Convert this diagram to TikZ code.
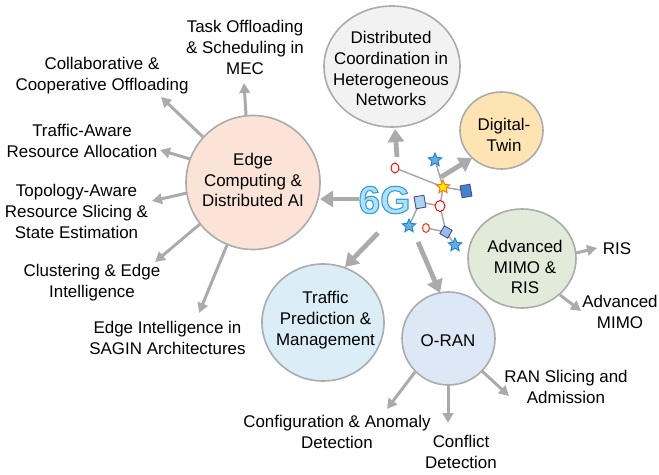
\documentclass[tikz,border=0pt]{standalone}
\usepackage{fontspec}
\setmainfont{Liberation Sans}
\usetikzlibrary{shapes.geometric,shapes.misc,arrows.meta}
\definecolor{gline}{HTML}{ABABAB}
\definecolor{netline}{HTML}{A8A8A8}
\tikzset{
  topic/.style={ellipse,draw=gline,line width=1.6bp,inner sep=0pt},
  lab/.style={align=center,inner sep=0pt,font=\fontsize{17}{21}\selectfont,text=black},
  thick arrow/.style={draw=gline,line width=4.8bp,-{Triangle[length=13bp,width=16bp]}},
  thin arrow/.style={draw=gline,line width=3bp,-{Triangle[length=10bp,width=10.5bp]}},
  netlink/.style={draw=netline,line width=1.5bp},
  redell/.style={ellipse,draw=red!90!black,fill=white!85!pink,line width=0.9bp,minimum width=8bp,minimum height=10bp,inner sep=0pt},
  bluesq/.style={rectangle,draw=black!60!blue!70,line width=0.9bp,minimum width=10bp,minimum height=12bp,inner sep=0pt},
  bluestar/.style={star,star points=5,star point ratio=2.2,draw=cyan!70!blue,fill={rgb,255:red,110;green,170;blue,225},line width=0.9bp,minimum size=14bp,inner sep=0pt},
}
\begin{document}
\begin{tikzpicture}[x=1bp,y=-1bp]
\useasboundingbox (0,0) rectangle (659,475);
% circles
\node[topic,fill={rgb,255:red,251;green,228;blue,215},minimum width=134bp,minimum height=134bp] (edge) at (253,182.5) {};
\node[topic,fill={rgb,255:red,242;green,242;blue,242},minimum width=136bp,minimum height=121bp] (dist) at (392,66.5) {};
\node[topic,fill={rgb,255:red,253;green,228;blue,178},minimum width=83bp,minimum height=77bp] (twin) at (501.5,130.5) {};
\node[topic,fill={rgb,255:red,226;green,235;blue,217},minimum width=108bp,minimum height=99bp] (mimo) at (522,258.5) {};
\node[topic,fill={rgb,255:red,219;green,238;blue,248},minimum width=122bp,minimum height=117bp] (traffic) at (323,322.5) {};
\node[topic,fill={rgb,255:red,221;green,232;blue,246},minimum width=93bp,minimum height=93bp] (oran) at (448.5,338.5) {};
% circle texts
\node[lab] (edgetxt) at (253,180) {Edge\\Computing \&\\Distributed AI};
\node[lab] (disttxt) at (391,68.5) {Distributed\\Coordination in\\Heterogeneous\\Networks};
\node[lab] (twintxt) at (504,135) {Digital-\\Twin};
\node[lab] (mimotxt) at (525,267) {Advanced\\MIMO \&\\RIS};
\node[lab] (traffictxt) at (325.5,320.5) {Traffic\\Prediction \&\\Management};
\node[lab] (orantxt) at (448,341) {O-RAN};
% labels
\node[lab] (task) at (245,47.5) {Task Offloading\\\& Scheduling in\\MEC};
\node[lab] (collab) at (102,75.5) {Collaborative \&\\Cooperative Offloading};
\node[lab] (aware) at (82,141) {Traffic-Aware\\Resource Allocation};
\node[lab] (topo) at (76.5,211.5) {Topology-Aware\\Resource Slicing \&\\State Estimation};
\node[lab] (clust) at (92,283) {Clustering \& Edge\\Intelligence};
\node[lab] (sagin) at (167.5,338) {Edge Intelligence in\\SAGIN Architectures};
\node[lab] (ris) at (617,249) {RIS};
\node[lab] (amimo) at (620,312) {Advanced\\MIMO};
\node[lab] (slice) at (566,387) {RAN Slicing and\\Admission};
\node[lab] (config) at (337,432) {Configuration \& Anomaly\\Detection};
\node[lab] (conflict) at (461,452) {Conflict\\Detection};
% 6G
\node[inner sep=0pt,font=\fontsize{39}{39}\selectfont\bfseries,text={rgb,255:red,178;green,224;blue,247}] (six) at (384.5,200) {\special{pdf:code 2 Tr 1.1 w 0.2 0.62 0.88 RG}6G\special{pdf:code 0 Tr}};
% free ends
\coordinate (t1) at (244,83); \coordinate (t2) at (161,97); \coordinate (t3) at (160,150);
\coordinate (t4) at (152,201); \coordinate (t5) at (155,262); \coordinate (t6) at (199,313);
\coordinate (s1) at (246,115); \coordinate (s2) at (203,137); \coordinate (s3) at (190,159);
\coordinate (s4) at (187,193); \coordinate (s5) at (200,224); \coordinate (s6) at (227,245);
\coordinate (a) at (359,199); \coordinate (b) at (397,157); \coordinate (c) at (441,177);
\coordinate (d) at (378,233); \coordinate (e) at (418,242);
\coordinate (m1) at (576,253); \coordinate (m2) at (560,295);
\coordinate (o1) at (482,371); \coordinate (o2) at (415,372); \coordinate (o3) at (448,385);
\coordinate (tm) at (581,311); \coordinate (tr) at (597,248); \coordinate (tsl) at (509,396);
\coordinate (tcf) at (387,409); \coordinate (tcd) at (448,423);
\coordinate (tedge) at (320,199); \coordinate (tdist) at (395,129); \coordinate (ttwin) at (472,158);
\coordinate (ttraf) at (345,267); \coordinate (toran) at (440,293);
% arrows
\foreach \s/\t in {s1/t1,s2/t2,s3/t3,s4/t4,s5/t5,s6/t6,m1/tr,m2/tm,o1/tsl,o2/tcf,o3/tcd}
  \draw[thin arrow] (\s) -- (\t);
\foreach \s/\t in {a/tedge,b/tdist,c/ttwin,d/ttraf,e/toran}
  \draw[thick arrow] (\s) -- (\t);
% network
\coordinate (p1) at (395,168); \coordinate (p2) at (443,187); \coordinate (p3) at (435,160);
\coordinate (p4) at (466,191); \coordinate (p5) at (440,206); \coordinate (p6) at (420,202);
\coordinate (p7) at (409,226); \coordinate (p8) at (426,228); \coordinate (p9) at (446,232);
\coordinate (p10) at (455,245);
\foreach \p/\q in {p1/p2,p2/p3,p2/p4,p2/p5,p5/p6,p6/p7,p5/p9,p8/p9,p9/p10}
  \draw[netlink] (\p) -- (\q);
\node[redell] (n1) at (p1) {};
\node[star,star points=5,star point ratio=2.2,draw=orange!90!red,fill=yellow!90!orange,line width=0.9bp,minimum size=14bp,inner sep=0pt] (n2) at (p2) {};
\node[bluestar] (n3) at (p3) {};
\node[bluesq,fill={rgb,255:red,68;green,130;blue,205},rotate=10] (n4) at (p4) {};
\node[redell,minimum width=10bp,minimum height=11bp] (n5) at (p5) {};
\node[bluesq,fill={rgb,255:red,170;green,214;blue,240},rotate=10] (n6) at (p6) {};
\node[bluestar] (n7) at (p7) {};
\node[redell,minimum width=7bp,minimum height=9bp,draw=red!70!orange] (n8) at (p8) {};
\node[bluesq,minimum width=9bp,minimum height=9bp,fill={rgb,255:red,150;green,190;blue,230},rotate=-30] (n9) at (p9) {};
\node[bluestar] (n10) at (p10) {};
\end{tikzpicture}
\end{document}
